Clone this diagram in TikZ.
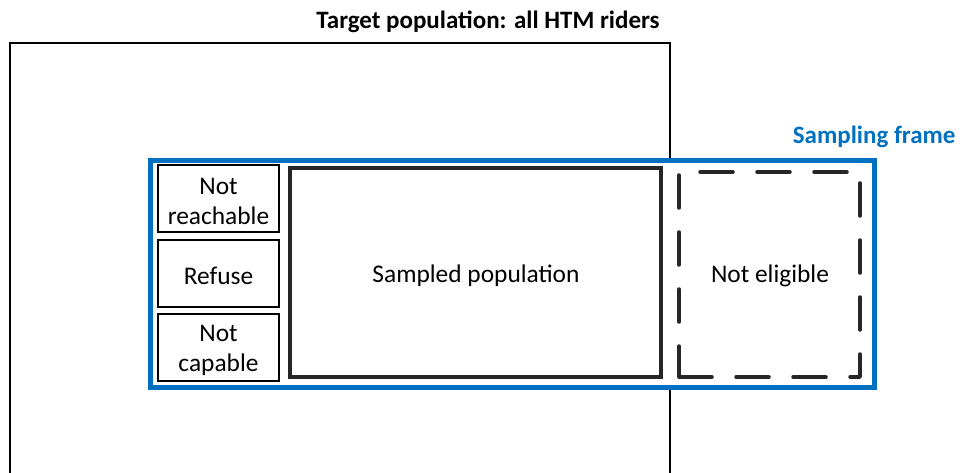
\documentclass[tikz,border=0pt]{standalone}
\usepackage{fontspec}
\setmainfont{Carlito}
\definecolor{frameblue}{HTML}{0070C0}
\definecolor{darkline}{HTML}{262626}
\begin{document}
\begin{tikzpicture}[x=1pt,y=-1pt,
  txt/.style={font=\fontsize{25.4}{30}\selectfont, text=black, align=center},
  thinbox/.style={draw=black, line width=1.2pt, rectangle, inner sep=0pt,
    minimum width=121pt, minimum height=67pt},
  heavybox/.style={draw=darkline, line width=3.5pt, rectangle, inner sep=0pt},
  framebox/.style={draw=frameblue, fill=white, line width=5pt, rectangle, inner sep=0pt},
  dashline/.style={draw=darkline, line width=3.5pt, line cap=round, line join=round,
    dash pattern=on 33pt off 24pt},
  titletxt/.style={font=\fontsize{25}{30}\selectfont\bfseries}]
\useasboundingbox (0,0) rectangle (960,473);

% target population: open at the bottom
\coordinate (tbl) at (10,473);
\coordinate (ttl) at (10,43);
\coordinate (ttr) at (670,43);
\coordinate (tbr) at (670,473);
\draw[black, line width=1.2pt] (tbl) -- (ttl) -- (ttr) -- (tbr);
\node[titletxt] (title) at (488,22) {Target population: all HTM riders};

% sampling frame, drawn over the target population
\node[framebox, minimum width=724pt, minimum height=227pt] (frame) at (512.5,273.7) {};
\node[titletxt, text=frameblue, anchor=east] (framelbl) at (959,137) {Sampling frame};

% non-response categories
\node[thinbox] (reach) at (218.5,198.5) {};
\node[thinbox] (refuse) at (218.5,273.5) {};
\node[thinbox] (capable) at (218.5,347.5) {};
\node[txt] (reachlbl) at (218.5,201) {Not\\reachable};
\node[txt] (refuselbl) at (218.5,275.5) {Refuse};
\node[txt] (capablelbl) at (218.5,350) {Not\\capable};

% sampled population
\node[heavybox, minimum width=371pt, minimum height=209pt] (sampled) at (475.5,272.5) {};
\node[txt] (sampledlbl) at (476,275.5) {Sampled population};

% not eligible (dashed)
\coordinate (ebl) at (679,377);
\coordinate (ebr) at (860,377);
\coordinate (etr) at (860,172);
\coordinate (etl) at (679,172);
\draw[dashline] (ebl) -- (ebr) -- (etr) -- (etl) -- (ebl);
\node[txt] (noteleg) at (770,276) {Not eligible};
\end{tikzpicture}
\end{document}
